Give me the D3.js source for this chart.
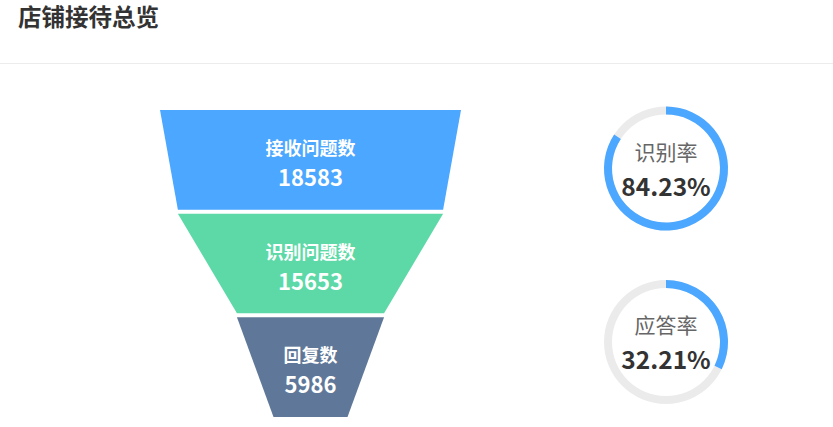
<!DOCTYPE html>
<html lang="zh">
<head>
<meta charset="UTF-8">
<title>店铺接待总览</title>
<script src="https://cdnjs.cloudflare.com/ajax/libs/d3/7.8.5/d3.min.js"></script>
<style>
  body { margin: 0; background: #fff; font-family: "Noto Sans CJK SC", "Noto Sans", sans-serif; }
</style>
</head>
<body>
<script>
const stages = ["接收问题数", "识别问题数", "回复数"];
const stageValues = [18583, 15653, 5986];
const stageColors = ["#4ba7ff", "#5cd9a6", "#5f7899"];
const rateLabels = ["识别率", "应答率"];
const rateValues = [84.23, 32.21];

const width = 833, height = 427;
const svg = d3.select("body").append("svg")
  .attr("width", width).attr("height", height);

// header
svg.append("text")
  .attr("x", 18).attr("y", 26)
  .attr("font-size", 23.5).attr("font-weight", "bold")
  .attr("fill", "#333")
  .text("店铺接待总览");
svg.append("line")
  .attr("x1", 0).attr("x2", width)
  .attr("y1", 63.5).attr("y2", 63.5)
  .attr("stroke", "#ececec");

// funnel
const funnelX = 310.5, funnelTop = 110, funnelBottom = 417, gap = 4;
const wScale = d3.scaleLinear().domain([0, d3.max(stageValues)]).range([74, 301]);
const pieceH = (funnelBottom - funnelTop - gap * (stages.length - 1)) / stages.length;
const yScale = d3.scaleBand().domain(stages).range([funnelTop, funnelBottom + gap]).paddingInner(0);

const pieces = svg.append("g").selectAll("g")
  .data(stages)
  .join("g");

pieces.append("path")
  .attr("d", (d, i) => {
    const y0 = yScale(d), y1 = y0 + pieceH;
    const w0 = wScale(stageValues[i]) / 2;
    const w1 = wScale(i + 1 < stageValues.length ? stageValues[i + 1] : 0) / 2;
    return `M${funnelX - w0},${y0}L${funnelX + w0},${y0}L${funnelX + w1},${y1}L${funnelX - w1},${y1}Z`;
  })
  .attr("fill", (d, i) => stageColors[i]);

pieces.append("text")
  .attr("x", funnelX)
  .attr("y", d => yScale(d) + pieceH / 2 - 5)
  .attr("text-anchor", "middle")
  .attr("font-size", 18).attr("font-weight", "bold")
  .attr("fill", "#fff")
  .text(d => d);

pieces.append("text")
  .attr("x", funnelX)
  .attr("y", d => yScale(d) + pieceH / 2 + 26)
  .attr("text-anchor", "middle")
  .attr("font-size", 22).attr("font-weight", "bold")
  .attr("fill", "#fff")
  .text((d, i) => stageValues[i]);

// rate rings
const ringCenters = [[666, 168.5], [666, 342]];
const rOuter = 62, rInner = 54;
const angle = d3.scaleLinear().domain([0, 100]).range([0, 2 * Math.PI]);
const arc = d3.arc().innerRadius(rInner).outerRadius(rOuter);

const rings = svg.append("g").selectAll("g")
  .data(rateLabels)
  .join("g")
  .attr("transform", (d, i) => `translate(${ringCenters[i][0]},${ringCenters[i][1]})`);

rings.append("path")
  .attr("d", arc({ startAngle: 0, endAngle: 2 * Math.PI }))
  .attr("fill", "#ebebeb");

rings.append("path")
  .attr("d", (d, i) => arc({ startAngle: 0, endAngle: angle(rateValues[i]) }))
  .attr("fill", "#4ba7ff");

rings.append("text")
  .attr("y", -9)
  .attr("text-anchor", "middle")
  .attr("font-size", 21)
  .attr("fill", "#666")
  .text(d => d);

rings.append("text")
  .attr("y", 27)
  .attr("text-anchor", "middle")
  .attr("font-size", 24.5).attr("font-weight", "bold")
  .attr("fill", "#333")
  .text((d, i) => rateValues[i].toFixed(2) + "%");
</script>
</body>
</html>
